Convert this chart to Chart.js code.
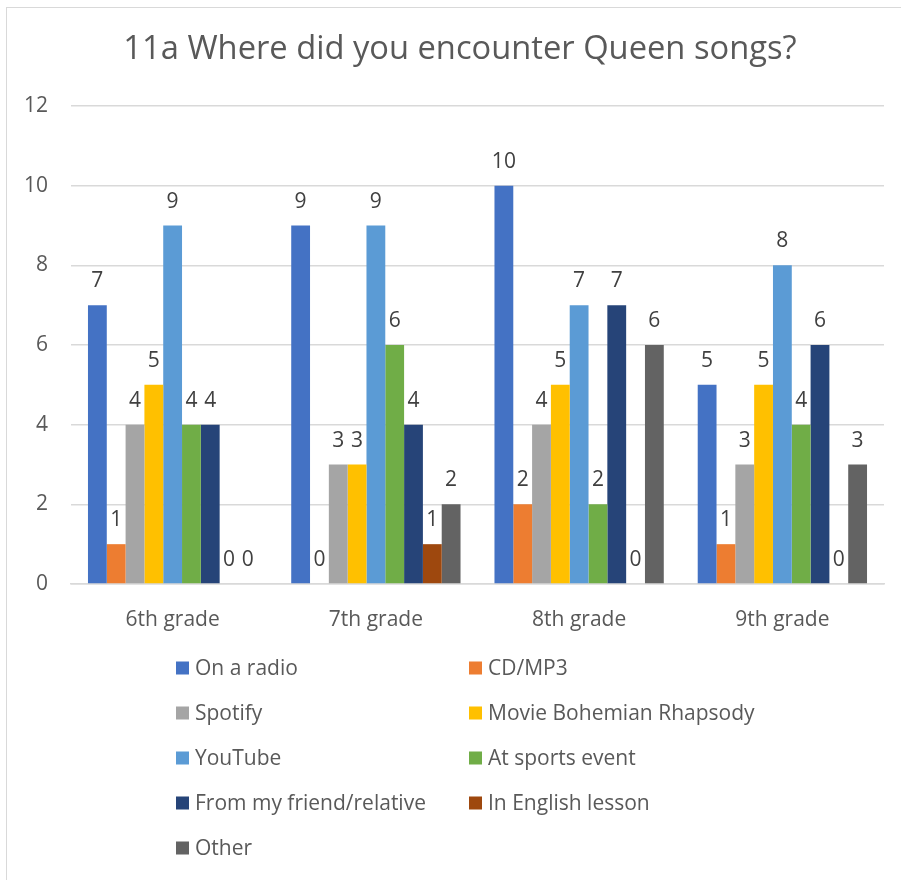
<!DOCTYPE html>
<html>
<head>
<meta charset="utf-8">
<title>11a Where did you encounter Queen songs?</title>
<script src="https://cdn.jsdelivr.net/npm/chart.js@4.4.1/dist/chart.umd.min.js"></script>
<style>
  html, body { margin: 0; padding: 0; background: #fff; }
  #wrap { position: relative; width: 901px; height: 880px; }
  #frame { position: absolute; left: 6px; top: 7px; width: 900px; height: 880px; border: 1px solid #d9d9d9; box-sizing: border-box; pointer-events: none; }
  canvas { display: block; }
</style>
</head>
<body>
<div id="wrap">
  <canvas id="chart" width="901" height="880"></canvas>
  <div id="frame"></div>
</div>
<script>
const chartTitle = '11a Where did you encounter Queen songs?';
const grades = ['6th grade', '7th grade', '8th grade', '9th grade'];
const seriesNames = ['On a radio', 'CD/MP3', 'Spotify', 'Movie Bohemian Rhapsody', 'YouTube',
  'At sports event', 'From my friend/relative', 'In English lesson', 'Other'];
const seriesColors = ['#4472c4', '#ed7d31', '#a5a5a5', '#ffc000', '#5b9bd5',
  '#70ad47', '#264478', '#9e480e', '#636363'];

const onRadio   = [7, 9, 10, 5];
const cdMp3     = [1, 0, 2, 1];
const spotify   = [4, 3, 4, 3];
const movie     = [5, 3, 5, 5];
const youtube   = [9, 9, 7, 8];
const sports    = [4, 6, 2, 4];
const friend    = [4, 4, 7, 6];
const english   = [0, 1, 0, 0];
const other     = [0, 2, 6, 3];
const seriesValues = [onRadio, cdMp3, spotify, movie, youtube, sports, friend, english, other];

const yTicks = [0, 2, 4, 6, 8, 10, 12];

const FONT = '"Open Sans", "DejaVu Sans", sans-serif';
const TEXT = '#595959';

// title centred over the whole frame, not just the canvas box
const frameTitle = {
  id: 'frameTitle',
  afterDraw(chart){
    const ctx = chart.ctx;
    ctx.save();
    ctx.font = '32.7px ' + FONT;
    ctx.fillStyle = TEXT;
    ctx.textAlign = 'center';
    ctx.textBaseline = 'middle';
    ctx.fillText(chartTitle, 460, 50);
    ctx.restore();
  }
};

// value labels above each bar
const valueLabels = {
  id: 'valueLabels',
  afterDatasetsDraw(chart){
    const ctx = chart.ctx;
    ctx.save();
    ctx.font = '21px ' + FONT;
    ctx.fillStyle = '#404040';
    ctx.textAlign = 'center';
    ctx.textBaseline = 'alphabetic';
    chart.data.datasets.forEach((ds, i)=>{
      chart.getDatasetMeta(i).data.forEach((bar, j)=>{
        ctx.fillText(String(ds.data[j]), bar.x, bar.y - 18);
      });
    });
    ctx.restore();
  }
};

// two-column legend under the plot
const gridLegend = {
  id: 'gridLegend',
  afterDraw(chart){
    const ctx = chart.ctx;
    ctx.save();
    ctx.font = '21px ' + FONT;
    ctx.textBaseline = 'middle';
    ctx.textAlign = 'left';
    const colX = [176, 469];
    seriesNames.forEach((name, i)=>{
      const x = colX[i % 2];
      const y = 668 + Math.floor(i / 2) * 45;
      ctx.fillStyle = seriesColors[i];
      ctx.fillRect(x, y - 6.5, 13, 13);
      ctx.fillStyle = TEXT;
      ctx.fillText(name, x + 19, y + 1);
    });
    ctx.restore();
  }
};

new Chart(document.getElementById('chart'), {
  type: 'bar',
  data: {
    labels: grades,
    datasets: seriesNames.map((name, i)=>({
      label: name,
      data: seriesValues[i],
      backgroundColor: seriesColors[i],
      categoryPercentage: 0.833,
      barPercentage: 1.0
    }))
  },
  options: {
    responsive: false,
    animation: false,
    events: [],
    layout: { padding: { top: 106, right: 17, bottom: 236, left: 0 } },
    plugins: {
      legend: { display: false },
      tooltip: { enabled: false },
      title: { display: false }
    },
    scales: {
      x: {
        grid: { display: false },
        border: { display: true, color: '#d9d9d9', width: 1.5 },
        ticks: { color: TEXT, font: { family: FONT, size: 21 }, padding: 15 },
        afterFit(scale){ scale.height = 60; }
      },
      y: {
        min: 0, max: 12,
        afterBuildTicks(scale){ scale.ticks = yTicks.map(v=>({ value: v })); },
        grid: { color: '#d9d9d9', lineWidth: 1.5, drawTicks: false },
        border: { display: false },
        ticks: { color: TEXT, font: { family: FONT, size: 21 }, padding: 23 },
        afterFit(scale){ scale.width = 71; }
      }
    }
  },
  plugins: [frameTitle, valueLabels, gridLegend]
});
</script>
</body>
</html>
